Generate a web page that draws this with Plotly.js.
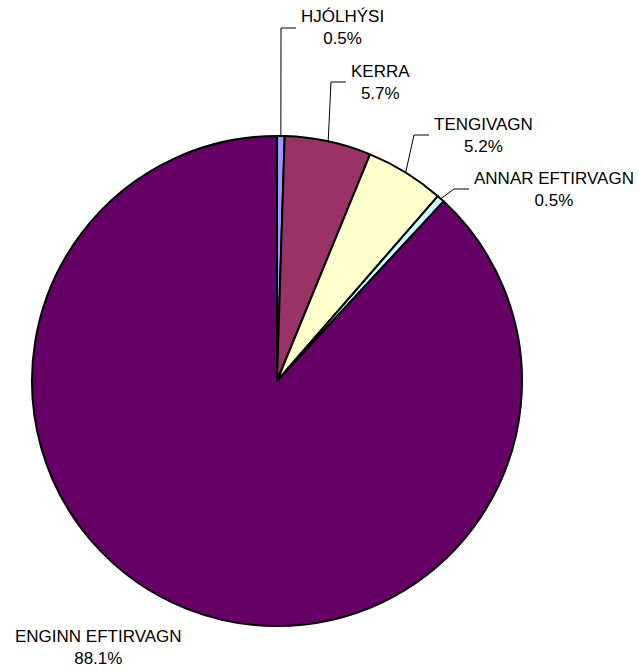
<!DOCTYPE html>
<html>
<head>
<meta charset="utf-8">
<script src="https://cdn.plot.ly/plotly-3.0.1.min.js"></script>
<style>html,body{margin:0;padding:0;background:#fff;}#chart{width:639px;height:670px;}</style>
</head>
<body>
<div id="chart"></div>
<script>
// ---- data ----
const categories = ["HJÓLHÝSI", "KERRA", "TENGIVAGN", "ANNAR EFTIRVAGN", "ENGINN EFTIRVAGN"];
const shares = [0.5, 5.7, 5.2, 0.5, 88.1];
const percentLabels = ["0.5%", "5.7%", "5.2%", "0.5%", "88.1%"];
const sliceColors = ["#9999FF", "#993366", "#FFFFCC", "#CCFFFF", "#660066"];

// ---- layout constants (pixels) ----
const W = 639, H = 670;
const CX = 277, CY = 381, R = 245;
// label block: [x, yCenter, anchor, hasLeader]
const labelLayout = [
  {x: 299, y: 28, anchor: "left", leader: true},
  {x: 349, y: 82, anchor: "left", leader: true},
  {x: 432, y: 135, anchor: "left", leader: true},
  {x: 472, y: 189, anchor: "left", leader: true},
  {x: 99, y: 647, anchor: "center", leader: false}
];

const px = x => x / W;
const py = y => 1 - y / H;

const total = shares.reduce((a, b) => a + b, 0);
const annotations = [];
const shapes = [];
let cum = 0;
shares.forEach((v, i) => {
  const mid = (cum + v / 2) / total * 2 * Math.PI;
  cum += v;
  const ax = CX + R * Math.sin(mid);
  const ay = CY - R * Math.cos(mid);
  const L = labelLayout[i];
  annotations.push({
    xref: "paper", yref: "paper",
    x: px(L.x), y: py(L.y),
    xanchor: L.anchor, yanchor: "middle",
    text: categories[i] + "<br>" + percentLabels[i],
    align: "center", showarrow: false,
    font: {family: "Liberation Sans, Arial, sans-serif", size: 17, color: "#000"}
  });
  if (L.leader) {
    const ex = L.x - 3;
    const elbowX = ex - 15;
    shapes.push({
      type: "path", xref: "paper", yref: "paper",
      path: `M ${px(ax)} ${py(ay)} L ${px(elbowX)} ${py(L.y)} L ${px(ex)} ${py(L.y)}`,
      line: {color: "#000", width: 1}
    });
  }
});

const trace = {
  type: "pie",
  labels: categories,
  values: shares,
  sort: false,
  direction: "clockwise",
  rotation: 0,
  textinfo: "none",
  hoverinfo: "none",
  marker: {colors: sliceColors, line: {color: "#000", width: 2}},
  domain: {x: [px(CX - R), px(CX + R)], y: [py(CY + R), py(CY - R)]},
  showlegend: false
};

Plotly.newPlot("chart", [trace], {
  width: W, height: H,
  margin: {l: 0, r: 0, t: 0, b: 0},
  paper_bgcolor: "#fff",
  showlegend: false,
  annotations: annotations,
  shapes: shapes
}, {displayModeBar: false, staticPlot: true});
</script>
</body>
</html>
